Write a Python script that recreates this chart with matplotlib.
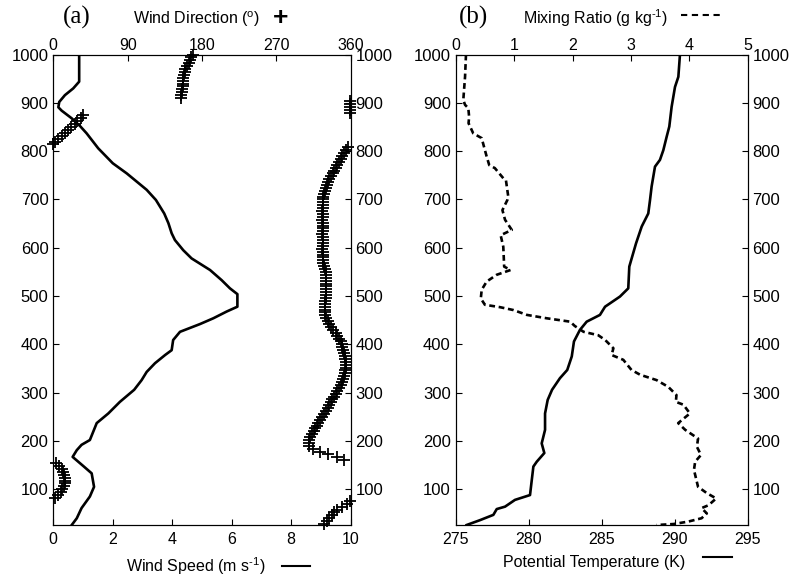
import numpy as np
import matplotlib
matplotlib.use('Agg')
import matplotlib.pyplot as plt
from matplotlib.lines import Line2D

plt.rcParams['font.family'] = ['Liberation Sans', 'DejaVu Sans']
plt.rcParams['mathtext.fontset'] = 'custom'
plt.rcParams['mathtext.rm'] = 'Liberation Sans'
plt.rcParams['mathtext.it'] = 'Liberation Sans:italic'

# ---- panel (a): wind profile ----
ws_height = [1000, 944, 930, 916, 902, 891, 884, 868, 852, 837, 806, 775, 754, 720, 699, 671,
             651, 630, 616, 595, 578, 554, 533, 516, 504, 478, 468, 454, 442, 426, 409, 388,
             378, 361, 343, 326, 306, 281, 257, 237, 202, 192, 181, 167, 148, 133, 105, 85,
             61, 40, 26]
ws_speed = [0.87, 0.87, 0.67, 0.39, 0.2, 0.17, 0.28, 0.62, 0.9, 1.12, 1.51, 2.0, 2.47, 3.14, 3.45, 3.73,
            3.87, 3.98, 4.09, 4.37, 4.65, 5.27, 5.66, 5.94, 6.19, 6.19, 5.83, 5.38, 4.93, 4.26, 4.03, 3.98,
            3.76, 3.42, 3.14, 2.97, 2.72, 2.24, 1.85, 1.46, 1.23, 0.95, 0.79, 0.65, 1.01, 1.29, 1.37, 1.23,
            0.95, 0.79, 0.62]

# wind direction, one value every 6 m from 28 m to 1000 m
wd_height = list(range(28, 1001, 6))
wd_dir = [328, 331, 334, 337, 340, 344, 349, 355, 359, 2, 6, 9, 11, 13, 14, 14,
          14, 13, 12, 10, 7, 3, 352, 344, 333, 323, 314, 310, 309, 310, 311, 313,
          315, 317, 319, 321, 323, 325, 328, 330, 332, 334, 336, 337, 340, 342, 344, 346,
          348, 350, 351, 352, 353, 353, 354, 354, 354, 353, 353, 352, 351, 350, 349, 348,
          346, 344, 342, 339, 336, 334, 332, 330, 329, 329, 329, 329, 329, 329, 330, 330,
          330, 330, 330, 330, 330, 330, 330, 330, 329, 328, 326, 326, 326, 326, 326, 325,
          326, 326, 326, 326, 325, 326, 326, 326, 326, 325, 326, 326, 325, 326, 326, 326,
          327, 327, 328, 329, 330, 331, 333, 334, 336, 338, 340, 342, 344, 346, 348, 350,
          352, 354, 357, 0, 2, 6, 10, 14, 18, 22, 26, 29, 33, 36, 359, 359,
          359, 359, 359, 155, 155, 156, 156, 157, 157, 157, 157, 158, 159, 160, 162, 164,
          165, 167, 169]

# ---- panel (b): thermodynamic profile ----
th_height = [1000, 954, 933, 892, 851, 830, 802, 782, 768, 727, 699, 671, 644, 609, 561, 516,
             499, 478, 461, 447, 430, 406, 375, 347, 330, 306, 285, 257, 223, 195, 175, 157,
             147, 119, 88, 78, 64, 59, 47, 36, 26]
theta = [290.36, 290.25, 290.02, 289.79, 289.63, 289.45, 289.22, 288.99, 288.65, 288.42, 288.31,
         288.19, 287.74, 287.35, 286.89, 286.82, 286.25, 285.23, 284.88, 283.97, 283.51, 283.10,
         282.95, 282.64, 282.14, 281.6, 281.3, 281.12, 281.12, 280.89, 281.07, 280.55, 280.32,
         280.21, 280.09, 279.06, 278.38, 277.81, 277.58, 276.66, 275.75]

mr_height = [1000, 954, 906, 896, 889, 871, 858, 837, 827, 809, 789, 771, 765, 744, 740, 706,
             699, 678, 658, 637, 626, 602, 561, 554, 544, 530, 513, 495, 482, 477, 471, 461,
             454, 447, 438, 426, 419, 409, 392, 378, 368, 347, 337, 326, 312, 295, 281, 275,
             257, 237, 223, 205, 188, 171, 157, 140, 105, 92, 81, 67, 61, 50, 40, 33,
             28, 26]
mixr = [0.176, 0.16, 0.13, 0.16, 0.216, 0.23, 0.22, 0.30, 0.445, 0.485, 0.53, 0.575, 0.67, 0.815,
        0.86, 0.90, 0.885, 0.80, 0.845, 0.96, 0.77, 0.815, 0.83, 0.94, 0.70, 0.53, 0.445, 0.43,
        0.50, 0.76, 0.99, 1.22, 1.56, 1.96, 2.04, 2.19, 2.44, 2.56, 2.70, 2.67, 2.87, 3.01,
        3.16, 3.44, 3.64, 3.78, 3.77, 3.90, 4.01, 3.81, 3.93, 4.15, 4.13, 4.20, 4.10, 4.08,
        4.15, 4.30, 4.46, 4.33, 4.21, 4.30, 4.21, 3.98, 3.73, 3.44]

yticks = [100, 200, 300, 400, 500, 600, 700, 800, 900, 1000]
FS = 11.5
HY = '\u2010'  # short hyphen for the superscripts

fig = plt.figure(figsize=(7.91, 5.82), dpi=100)
W, H = 791.0, 582.0
bot = 1 - 525 / H
hgt = (525 - 54.6) / H


def style(ax, top):
    ax.set_ylim(26, 1000)
    ax.set_yticks(yticks)
    ax.tick_params(direction='in', length=4, width=0.8, labelsize=FS,
                   left=True, right=True, labelleft=True, labelright=True, pad=3.5)
    ax.tick_params(axis='y', labelsize=12)
    ax.tick_params(axis='x', pad=5)
    for s in ax.spines.values():
        s.set_linewidth(0.8)
    top.tick_params(axis='x', direction='in', length=4, width=0.8, labelsize=FS, pad=1)
    top.tick_params(axis='y', left=False, right=False, labelleft=False, labelright=False)


# panel (a)
ax1 = fig.add_axes([53.3 / W, bot, 297.4 / W, hgt])
ax1.plot(ws_speed, ws_height, color='k', lw=1.9)
ax1.set_xlim(0, 10)
ax1.set_xticks([0, 2, 4, 6, 8, 10])
ax1t = ax1.twiny()
ax1t.plot(wd_dir, wd_height, linestyle='none', marker='+', color='k', ms=8.5, mew=1.3,
          clip_on=False)
ax1t.set_xlim(0, 360)
ax1t.set_xticks([0, 90, 180, 270, 360])
style(ax1, ax1t)

# panel (b)
ax2 = fig.add_axes([455.7 / W, bot, 292 / W, hgt])
ax2.plot(theta, th_height, color='k', lw=1.9)
ax2.set_xlim(275, 295)
ax2.set_xticks([275, 280, 285, 290, 295])
ax2t = ax2.twiny()
ax2t.plot(mixr, mr_height, color='k', lw=1.9, linestyle=(0, (2.2, 1.4)))
ax2t.set_xlim(0, 5)
ax2t.set_xticks([0, 1, 2, 3, 4, 5])
style(ax2, ax2t)

# labels
fig.text(77 / W, 1 - 17 / H, '(a)', family='Liberation Serif', fontsize=18, ha='center', va='center')
fig.text(474 / W, 1 - 17 / H, '(b)', family='Liberation Serif', fontsize=18, ha='center', va='center')

fig.text(133 / W, 1 - 19 / H, r'Wind Direction ($^{\mathrm{o}}$)', fontsize=FS, ha='left', va='center')
fig.text(281 / W, 1 - 18 / H, '+', fontsize=19, fontweight='bold', ha='center', va='center')

fig.text(523 / W, 1 - 18 / H, r'Mixing Ratio (g kg$^{\mathrm{' + HY + r'1}}$)', fontsize=FS,
         ha='left', va='center')
fig.add_artist(Line2D([681 / W, 720 / W], [1 - 15 / H, 1 - 15 / H], color='k', lw=1.5,
                      linestyle=(0, (3, 2.2))))

fig.text(126 / W, 1 - 566 / H, r'Wind Speed (m s$^{\mathrm{' + HY + r'1}}$)', fontsize=FS,
         ha='left', va='center')
fig.add_artist(Line2D([282 / W, 310 / W], [1 - 566 / H, 1 - 566 / H], color='k', lw=1.5))

fig.text(503 / W, 1 - 562 / H, 'Potential Temperature (K)', fontsize=FS, ha='left', va='center')
fig.add_artist(Line2D([703 / W, 732 / W], [1 - 557 / H, 1 - 557 / H], color='k', lw=1.5))

fig.savefig('out.png', dpi=100)
